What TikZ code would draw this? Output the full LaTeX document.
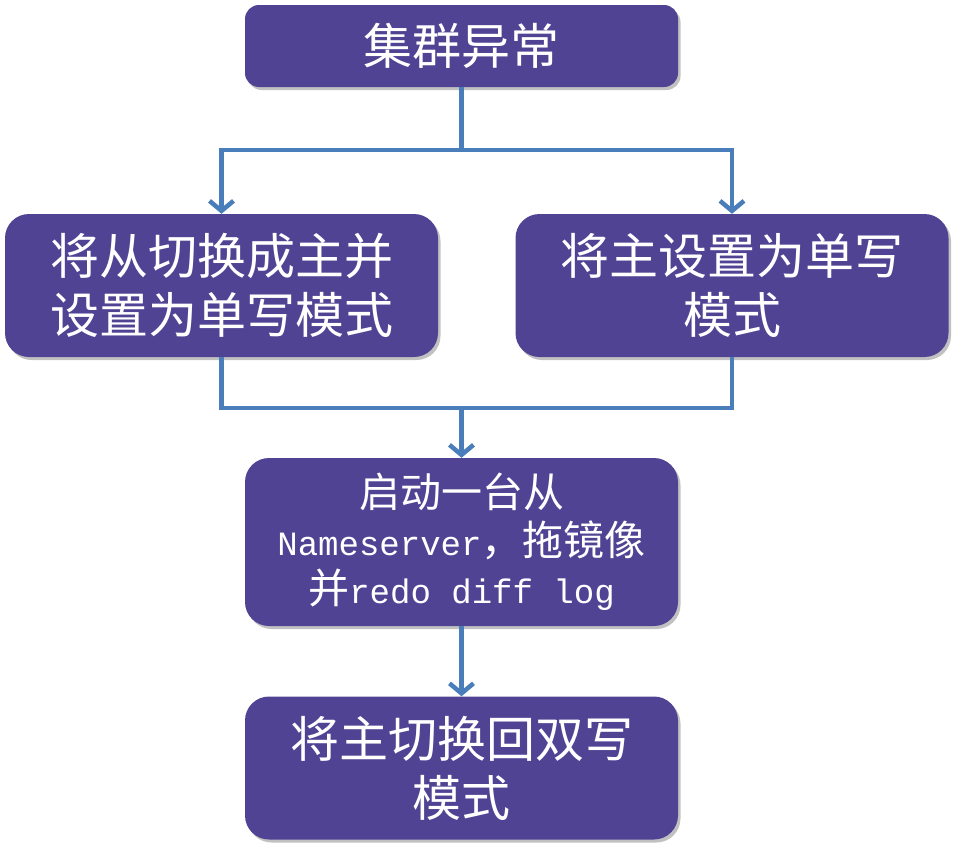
\documentclass[tikz,border=0pt]{standalone}
\usepackage{fontspec}
\setmainfont{Noto Sans CJK SC}
\newfontfamily\cjkfont{Noto Sans CJK SC}
\newfontfamily\latinmono[Scale=0.83]{Liberation Mono}
\usetikzlibrary{arrows.meta,shadows,positioning}
\definecolor{boxfill}{RGB}{80,67,148}
\definecolor{linkblue}{RGB}{74,126,187}
\tikzset{
  stepbox/.style={draw=none, fill=boxfill, text=white, align=center,
    inner sep=0pt, minimum width=433pt,
    drop shadow={shadow xshift=2.5pt, shadow yshift=-3pt, opacity=0.3, fill=black!80},
    font=\cjkfont\fontsize{49}{59}\selectfont},
  smallbox/.style={stepbox, minimum height=82pt, rounded corners=14pt},
  tallbox/.style={stepbox, minimum height=143pt, rounded corners=24pt},
  link/.style={draw=linkblue, line width=4.5pt},
  arrowlink/.style={link, -{Straight Barb[length=10pt,width=24pt,line width=4.5pt]}},
}
\begin{document}
\begin{tikzpicture}[x=1pt,y=-1pt]
\useasboundingbox (0,0) rectangle (964,854);

\node[smallbox] (start) at (461.5,46) {集群异常};
\node[tallbox] (left) at (221.5,285.5) {将从切换成主并\\设置为单写模式};
\node[tallbox] (right) at (732,285.5) {将主设置为单写\\模式};
\node[tallbox, minimum height=168pt, font=\cjkfont\fontsize{41}{48}\selectfont] (mirror) at (461.5,542)
  {启动一台从\\{\latinmono Nameserver}，拖镜像\\并{\latinmono redo diff log}};
\node[tallbox] (restore) at (461.5,768) {将主切换回双写\\模式};

% split from the start box to both branches
\coordinate (split) at (461.5,150);
\draw[link] (start.south) -- (split);
\draw[arrowlink] (split) -| (left.north);
\draw[arrowlink] (split) -| (right.north);

% join both branches into the mirror step
\coordinate (join) at (461.5,408);
\draw[link] (left.south) |- (join);
\draw[link] (right.south) |- (join);
\draw[arrowlink] (join) -- (mirror.north);

\draw[arrowlink] (mirror.south) -- (restore.north);
\end{tikzpicture}
\end{document}
